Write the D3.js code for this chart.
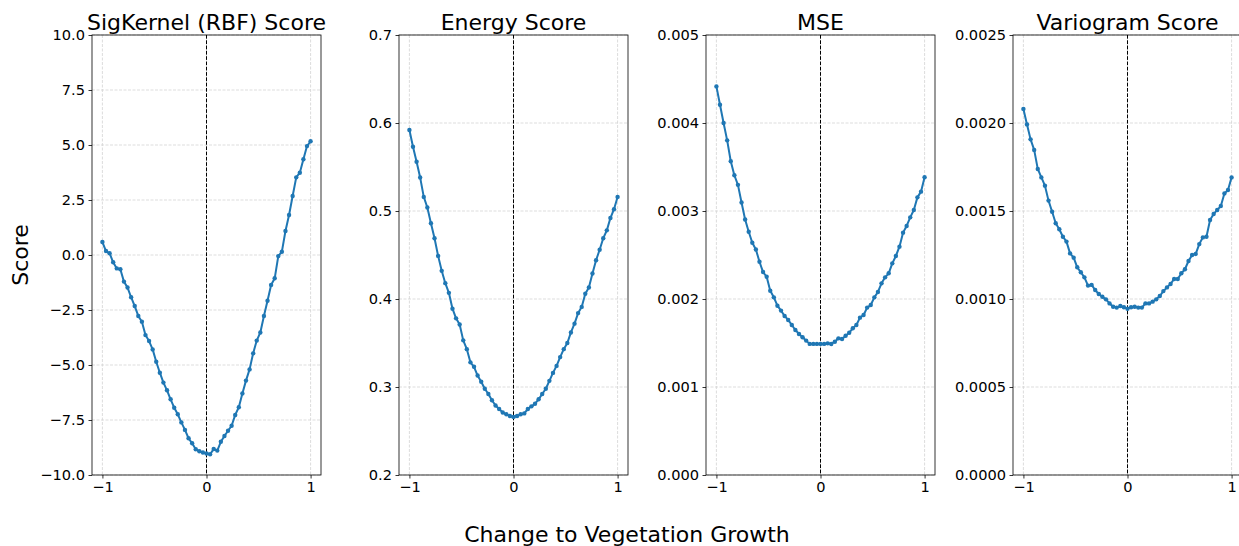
<!DOCTYPE html>
<html><head><meta charset="utf-8">
<script src="https://cdn.jsdelivr.net/npm/d3@7"></script>
<style>
html,body{margin:0;padding:0;background:#fff;}
svg{display:block;font-family:"DejaVu Sans",sans-serif;}
</style></head>
<body><svg id="chart" width="1239" height="546"></svg>
<script>
// x grid: 59 evenly spaced points from -1 to 1
const nPoints = 59;
const xValues = d3.range(nPoints).map(i => -1 + i * 2 / (nPoints - 1));

const titles = ["SigKernel (RBF) Score", "Energy Score", "MSE", "Variogram Score"];

const sigkernel = [0.59, 0.18, 0.08, -0.33, -0.61, -0.65, -1.21, -1.48, -1.92, -2.32, -2.77, -3.03, -3.64, -3.91, -4.29,
  -4.85, -5.35, -5.80, -6.15, -6.56, -6.94, -7.24, -7.61, -7.95, -8.33, -8.56, -8.83, -8.92, -8.98,
  -9.02, -9.06, -8.82, -8.89, -8.49, -8.23, -7.99, -7.76, -7.27, -6.92, -6.29, -5.71, -5.20, -4.47, -3.89,
  -3.52, -2.77, -2.08, -1.36, -1.06, -0.05, 0.15, 1.09, 1.82, 2.68, 3.53, 3.74, 4.35, 4.95, 5.17];

const energy = [0.592, 0.573, 0.556, 0.538, 0.516, 0.504, 0.486, 0.469, 0.449, 0.432, 0.418, 0.407, 0.389, 0.378, 0.371,
  0.353, 0.343, 0.328, 0.323, 0.313, 0.306, 0.298, 0.292, 0.285, 0.279, 0.275, 0.271, 0.269, 0.267,
  0.266, 0.267, 0.269, 0.270, 0.275, 0.278, 0.281, 0.286, 0.292, 0.298, 0.307, 0.316, 0.324, 0.334, 0.343,
  0.350, 0.362, 0.372, 0.384, 0.391, 0.406, 0.413, 0.429, 0.444, 0.456, 0.469, 0.478, 0.492, 0.502, 0.516];

const mse = [0.004416, 0.004208, 0.004000, 0.003803, 0.003565, 0.003406, 0.003297, 0.003096, 0.002904, 0.002764,
  0.002639, 0.002563, 0.002423, 0.002306, 0.002253, 0.002094, 0.002019, 0.001924, 0.001868, 0.001807,
  0.001762, 0.001705, 0.001648, 0.001603, 0.001565, 0.001527, 0.001490, 0.001490, 0.001490,
  0.001490, 0.001490, 0.001496, 0.001489, 0.001515, 0.001553, 0.001545, 0.001583, 0.001617, 0.001667,
  0.001705, 0.001788, 0.001818, 0.001902, 0.001932, 0.002019, 0.002080, 0.002178, 0.002246, 0.002292,
  0.002405, 0.002489, 0.002595, 0.002754, 0.002830, 0.002928, 0.003011, 0.003155, 0.003220, 0.003383];

const variogram = [0.002080, 0.001992, 0.001907, 0.001847, 0.001739, 0.001691, 0.001644, 0.001559, 0.001496, 0.001430,
  0.001396, 0.001354, 0.001326, 0.001259, 0.001235, 0.001180, 0.001152, 0.001123, 0.001076, 0.001080,
  0.001051, 0.001028, 0.001013, 0.000998, 0.000975, 0.000956, 0.000951, 0.000960, 0.000953,
  0.000945, 0.000953, 0.000956, 0.000951, 0.000951, 0.000975, 0.000975, 0.000985, 0.000998, 0.001017,
  0.001045, 0.001066, 0.001085, 0.001114, 0.001114, 0.001146, 0.001169, 0.001216, 0.001250, 0.001256,
  0.001312, 0.001350, 0.001354, 0.001449, 0.001483, 0.001506, 0.001528, 0.001600, 0.001619, 0.001691];

const yDomains = [[-10, 10], [0.2, 0.7], [0, 0.005], [0, 0.0025]];
const yTicks = [
  [-10, -7.5, -5, -2.5, 0, 2.5, 5, 7.5, 10],
  [0.2, 0.3, 0.4, 0.5, 0.6, 0.7],
  [0, 0.001, 0.002, 0.003, 0.004, 0.005],
  [0, 0.0005, 0.001, 0.0015, 0.002, 0.0025]
];
const yFormats = [".1f", ".1f", ".3f", ".4f"];
const xTicks = [-1, 0, 1];
const series = [sigkernel, energy, mse, variogram];

const svg = d3.select("#chart");
const panelLeft = [92, 399, 706, 1013];
const panelW = 229, topY = 35, bottomY = 475;
const blue = "#1f77b4";

series.forEach((vals, p) => {
  const x = d3.scaleLinear().domain([-1.1, 1.1]).range([panelLeft[p], panelLeft[p] + panelW]);
  const y = d3.scaleLinear().domain(yDomains[p]).range([bottomY, topY]);
  const g = svg.append("g");

  // grid
  g.append("g").selectAll("line").data(yTicks[p]).join("line")
    .attr("x1", x.range()[0]).attr("x2", x.range()[1])
    .attr("y1", d => y(d)).attr("y2", d => y(d))
    .attr("stroke", "#d4d4d4").attr("stroke-width", 0.8).attr("stroke-dasharray", "3,1.5");
  g.append("g").selectAll("line").data(xTicks).join("line")
    .attr("x1", d => x(d)).attr("x2", d => x(d))
    .attr("y1", topY).attr("y2", bottomY)
    .attr("stroke", "#d4d4d4").attr("stroke-width", 0.8).attr("stroke-dasharray", "3,1.5");

  // zero line
  g.append("line").attr("x1", x(0)).attr("x2", x(0)).attr("y1", topY).attr("y2", bottomY)
    .attr("stroke", "#000").attr("stroke-width", 1).attr("stroke-dasharray", "3.7,1.6");

  // line + markers
  const data = vals.map((v, i) => [xValues[i], v]);
  g.append("path").datum(data)
    .attr("fill", "none").attr("stroke", blue).attr("stroke-width", 2)
    .attr("stroke-linejoin", "round")
    .attr("d", d3.line().x(d => x(d[0])).y(d => y(d[1])));
  g.append("g").selectAll("circle").data(data).join("circle")
    .attr("cx", d => x(d[0])).attr("cy", d => y(d[1])).attr("r", 2.2)
    .attr("fill", blue);

  // axes
  const fmt = d3.format(yFormats[p]);
  const yAxis = g.append("g").attr("transform", `translate(${panelLeft[p]},0)`)
    .call(d3.axisLeft(y).tickValues(yTicks[p]).tickFormat(fmt).tickSize(3.5).tickPadding(3.5));
  const xAxis = g.append("g").attr("transform", `translate(0,${bottomY})`)
    .call(d3.axisBottom(x).tickValues(xTicks).tickFormat(d3.format("d")).tickSize(3.5).tickPadding(3.5));
  [yAxis, xAxis].forEach(a => {
    a.select(".domain").remove();
    a.selectAll("line").attr("stroke", "#000").attr("stroke-width", 0.8);
    a.selectAll("text").attr("font-family", "DejaVu Sans").attr("font-size", 14.6).attr("fill", "#000");
  });

  // frame
  g.append("rect").attr("x", panelLeft[p]).attr("y", topY).attr("width", panelW).attr("height", bottomY - topY)
    .attr("fill", "none").attr("stroke", "#000").attr("stroke-width", 0.8);

  // title
  g.append("text").attr("x", panelLeft[p] + panelW / 2).attr("y", 30)
    .attr("text-anchor", "middle").attr("font-size", 22).attr("fill", "#000").text(titles[p]);
});

svg.append("text").attr("transform", "translate(28,255) rotate(-90)")
  .attr("text-anchor", "middle").attr("font-size", 22).attr("fill", "#000").text("Score");
svg.append("text").attr("x", 627).attr("y", 542)
  .attr("text-anchor", "middle").attr("font-size", 22).attr("fill", "#000").text("Change to Vegetation Growth");
</script></body></html>
